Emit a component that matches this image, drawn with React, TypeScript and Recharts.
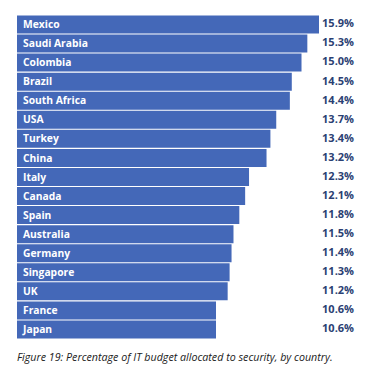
import { BarChart, Bar, XAxis, YAxis, LabelList } from "recharts";

const countries = [
  "Mexico",
  "Saudi Arabia",
  "Colombia",
  "Brazil",
  "South Africa",
  "USA",
  "Turkey",
  "China",
  "Italy",
  "Canada",
  "Spain",
  "Australia",
  "Germany",
  "Singapore",
  "UK",
  "France",
  "Japan",
];

const shares = [15.9, 15.3, 15.0, 14.5, 14.4, 13.7, 13.4, 13.2, 12.3, 12.1, 11.8, 11.5, 11.4, 11.3, 11.2, 10.6, 10.6];

const caption = "Figure 19: Percentage of IT budget allocated to security, by country.";

const data = countries.map((country, i) => ({ country, share: shares[i] }));

const BAR = "#4468b8";
const VALUE = "#2b3f73";

const NameLabel = (props: any) => {
  const { x, y, height, value } = props;
  return (
    <text
      x={x + 6}
      y={y + height / 2}
      dy="0.35em"
      fill="#ffffff"
      fontSize={10.3}
      fontWeight={700}
      fontFamily="'Open Sans', sans-serif"
    >
      {value}
    </text>
  );
};

const ValueLabel = (props: any) => {
  const { y, height, value } = props;
  return (
    <text
      x={354}
      y={y + height / 2 - 1}
      dy="0.35em"
      textAnchor="end"
      fill={VALUE}
      fontSize={11}
      fontWeight={700}
      fontFamily="'Open Sans', sans-serif"
    >
      {value.toFixed(1)}%
    </text>
  );
};

export default function App() {
  return (
    <div style={{ position: "absolute", left: 0, top: 0, width: 372, height: 381, background: "#fff" }}>
      <BarChart
        layout="vertical"
        width={372}
        height={340}
        data={data}
        margin={{ top: 14.5, right: 53, bottom: 1.5, left: 17 }}
      >
        <XAxis type="number" hide domain={[0.36, 15.9]} allowDataOverflow />
        <YAxis type="category" dataKey="country" hide />
        <Bar dataKey="share" fill={BAR} barSize={18} isAnimationActive={false}>
          <LabelList dataKey="country" content={NameLabel} />
          <LabelList dataKey="share" content={ValueLabel} />
        </Bar>
      </BarChart>
      <div
        style={{
          position: "absolute",
          left: 17,
          top: 350,
          fontFamily: "'Open Sans', sans-serif",
          fontStyle: "italic",
          fontSize: 10.7,
          color: "#1a1a1a",
          whiteSpace: "nowrap",
        }}
      >
        {caption}
      </div>
    </div>
  );
}
